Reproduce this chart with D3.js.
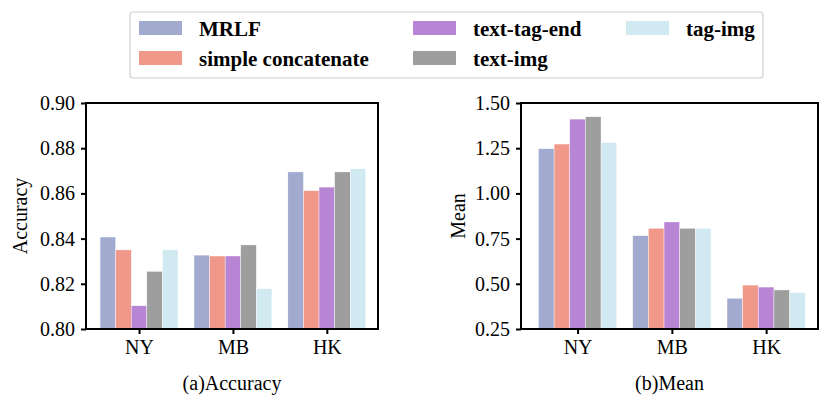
<!DOCTYPE html>
<html>
<head>
<meta charset="utf-8">
<script src="https://cdn.jsdelivr.net/npm/d3@7"></script>
<style>
  body { margin: 0; background: #fff; }
  svg text { font-family: "Liberation Serif", "Times New Roman", Times, serif !important; fill: #000; }
</style>
</head>
<body>
<script>
// data
var cities = ['NY', 'MB', 'HK']
var methods = ['MRLF', 'simple concatenate', 'text-tag-end', 'text-img', 'tag-img']
var colors = ['#a2aad0', '#f0998b', '#b885d4', '#9e9e9e', '#d1e9f0']

var accuracy = [
  [0.8407, 0.8327, 0.8695],   // MRLF
  [0.8350, 0.8323, 0.8612],   // simple concatenate
  [0.8103, 0.8323, 0.8628],   // text-tag-end
  [0.8255, 0.8372, 0.8695],   // text-img
  [0.8350, 0.8178, 0.8709]    // tag-img
]
var mean = [
  [1.247, 0.766, 0.420],
  [1.273, 0.807, 0.493],
  [1.411, 0.842, 0.482],
  [1.424, 0.807, 0.466],
  [1.281, 0.807, 0.451]
]
var accTicks = [0.80, 0.82, 0.84, 0.86, 0.88, 0.90]
var meanTicks = [0.25, 0.50, 0.75, 1.00, 1.25, 1.50]

var W = 830, H = 405
var svg = d3.select('body').append('svg')
    .attr('width', W)
    .attr('height', H)
    .style('display', 'block')

var barW = 0.166

function drawPanel(cfg) {
    var x = d3.scaleLinear().domain(cfg.xlim).range([cfg.left, cfg.right])
    var y = d3.scaleLinear().domain(cfg.ylim).range([cfg.bottom, cfg.top])
    var g = svg.append('g')

    cfg.values.forEach(function (series, si) {
        g.selectAll(null)
            .data(series)
            .enter().append('rect')
            .attr('x', (d, ci) => x(ci + (si - 2.5) * barW))
            .attr('width', x(barW) - x(0))
            .attr('y', d => y(d))
            .attr('height', d => y(cfg.ylim[0]) - y(d))
            .attr('fill', colors[si])
            .attr('stroke', '#ffffff')
            .attr('stroke-width', 0.4)
    })

    // frame
    g.append('rect')
        .attr('x', cfg.left).attr('y', cfg.top)
        .attr('width', cfg.right - cfg.left).attr('height', cfg.bottom - cfg.top)
        .attr('fill', 'none').attr('stroke', '#000').attr('stroke-width', 2)

    var yAxis = d3.axisLeft(y).tickValues(cfg.ticks).tickFormat(d3.format('.2f'))
        .tickSize(5).tickPadding(6)
    var ya = g.append('g').attr('transform', 'translate(' + cfg.left + ',0)').call(yAxis)
    ya.select('.domain').remove()
    ya.selectAll('line').attr('stroke-width', 2)
    ya.selectAll('text').attr('font-size', 20)

    var xAxis = d3.axisBottom(x).tickValues([0, 1, 2]).tickFormat(i => cities[i])
        .tickSize(5).tickPadding(6)
    var xa = g.append('g').attr('transform', 'translate(0,' + cfg.bottom + ')').call(xAxis)
    xa.select('.domain').remove()
    xa.selectAll('line').attr('stroke-width', 2)
    xa.selectAll('text').attr('font-size', 20)

    g.append('text')
        .attr('transform', 'translate(' + cfg.ylabelX + ',' + ((cfg.top + cfg.bottom) / 2) + ') rotate(-90)')
        .attr('text-anchor', 'middle')
        .attr('dominant-baseline', 'middle')
        .attr('font-size', 20)
        .text(cfg.ylabel)

    g.append('text')
        .attr('x', (cfg.left + cfg.right) / 2)
        .attr('y', 390)
        .attr('text-anchor', 'middle')
        .attr('font-size', 20)
        .text(cfg.title)
}

drawPanel({
    values: accuracy, ticks: accTicks, ylim: [0.80, 0.90], xlim: [-0.565, 2.545],
    left: 86, right: 378, top: 103, bottom: 329,
    ylabel: 'Accuracy', ylabelX: 22, title: '(a)Accuracy'
})
drawPanel({
    values: mean, ticks: meanTicks, ylim: [0.25, 1.50], xlim: [-0.6, 2.55],
    left: 521, right: 818, top: 103, bottom: 329,
    ylabel: 'Mean', ylabelX: 460, title: '(b)Mean'
})

// legend
var leg = svg.append('g')
leg.append('rect')
    .attr('x', 130).attr('y', 12).attr('width', 633).attr('height', 66)
    .attr('rx', 3).attr('fill', '#fff').attr('stroke', '#d0d0d0').attr('stroke-width', 1.2)

var colX = [139, 413, 626]
methods.forEach(function (m, i) {
    var col = Math.floor(i / 2), row = i % 2
    var item = leg.append('g').attr('transform', 'translate(' + colX[col] + ',' + (21 + row * 30) + ')')
    item.append('rect').attr('width', 43).attr('height', 14).attr('fill', colors[i])
    item.append('text')
        .attr('x', 60).attr('y', 15)
        .attr('font-size', 21).attr('font-weight', 'bold')
        .text(m)
})
</script>
</body>
</html>
